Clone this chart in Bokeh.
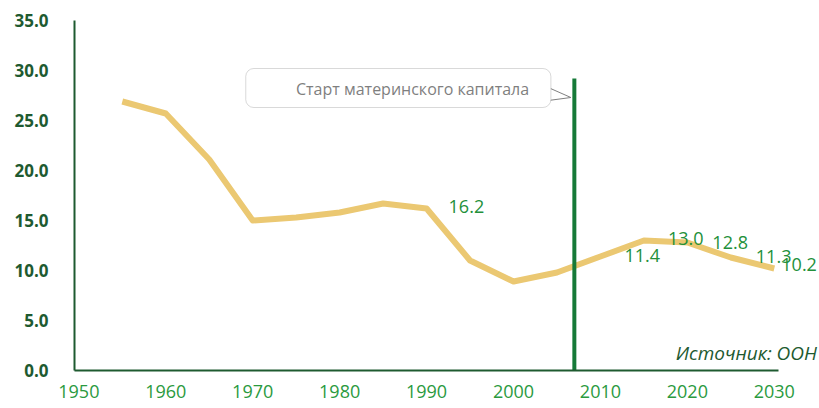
from bokeh.plotting import figure
from bokeh.models import Range1d, FixedTicker, PrintfTickFormatter, Label, ColumnDataSource, BoxAnnotation
from bokeh.core.properties import value
from bokeh.embed import file_html
from bokeh.resources import INLINE

# ---- data ----
years = [1955, 1960, 1965, 1970, 1975, 1980, 1985, 1990, 1995, 2000, 2005, 2010, 2015, 2020, 2025, 2030]
rate = [26.9, 25.7, 21.1, 15.0, 15.3, 15.8, 16.7, 16.2, 11.0, 8.9, 9.8, 11.4, 13.0, 12.8, 11.3, 10.2]

label_years = [1990, 2010, 2015, 2020, 2025, 2030]
label_vals = [16.2, 11.4, 13.0, 12.8, 11.3, 10.2]
label_text = ["16.2", "11.4", "13.0", "12.8", "11.3", "10.2"]
label_dx = [22, 24, 24, 25, 25, 7]
label_dy = [-2, -1, -2, 0, -1, -4]

x_ticks = [1950, 1960, 1970, 1980, 1990, 2000, 2010, 2020, 2030]
y_ticks = [0, 5, 10, 15, 20, 25, 30, 35]

event_year = [2007]
event_top = [29.2]
event_text = "Старт материнского капитала"
source_text = "Источник: ООН"

GREEN_DARK = "#1e5a30"
GREEN = "#23903a"
LINE_GOLD = "#ebc872"
VLINE = "#167a38"

p = figure(width=819, height=408, output_backend="svg", toolbar_location=None,
           x_range=Range1d(1949.5, 2035.2), y_range=Range1d(0, 35),
           min_border_left=74, min_border_right=0, min_border_top=20, min_border_bottom=38)
p.outline_line_color = None
p.xgrid.visible = False
p.ygrid.visible = False
p.background_fill_color = "white"

# axes
for ax in (p.xaxis[0], p.yaxis[0]):
    ax.axis_line_color = GREEN_DARK
    ax.axis_line_width = 2
    ax.major_tick_line_color = None
    ax.minor_tick_line_color = None
    ax.major_label_text_font = "Open Sans"

p.xaxis.bounds = (1949.5, 2030.5)
p.xaxis.ticker = FixedTicker(ticks=x_ticks)
p.xaxis.major_label_text_color = "#2a9a3e"
p.xaxis.major_label_text_font_size = "18px"
p.xaxis.major_label_standoff = 8

p.yaxis.ticker = FixedTicker(ticks=y_ticks)
p.yaxis.formatter = PrintfTickFormatter(format="%.1f")
p.yaxis.major_label_text_color = GREEN_DARK
p.yaxis.major_label_text_font_size = "17px"
p.yaxis.major_label_text_font_style = "bold"
p.yaxis.major_label_standoff = 20

# main line
p.line(years, rate, line_color=LINE_GOLD, line_width=6, line_join="round")

# event vertical line
p.segment(x0=event_year, y0=[0], x1=event_year, y1=event_top, line_color=VLINE, line_width=4)

# data labels
src = ColumnDataSource(dict(x=label_years, y=label_vals, t=label_text, dx=label_dx, dy=label_dy))
p.text(x="x", y="y", text="t", x_offset="dx", y_offset="dy", source=src,
       text_font=value("Open Sans"), text_font_size="18px", text_color=GREEN,
       text_align="left", text_baseline="middle")

# callout box
p.patch([2004.0, 2006.6, 2004.0], [28.3, 27.3, 27.0], fill_color="white", line_color="#808080", line_width=1)
box = BoxAnnotation(left=1969.2, right=2004.3, top=30.2, bottom=26.3,
                    fill_color="white", fill_alpha=1.0, line_color="#808080", line_width=1,
                    border_radius=8)
p.add_layout(box)
p.add_layout(Label(x=2001.8, y=28.2, text=event_text, text_align="right", text_baseline="middle",
                   text_font="Open Sans", text_font_size="16px", text_color="#7f7f7f"))

# source note
p.add_layout(Label(x=2034.9, y=1.8, text=source_text, text_align="right", text_baseline="middle",
                   text_font="Open Sans", text_font_size="19px", text_font_style="italic",
                   text_color=GREEN_DARK))

open("out.html", "w").write(file_html(p, INLINE))
